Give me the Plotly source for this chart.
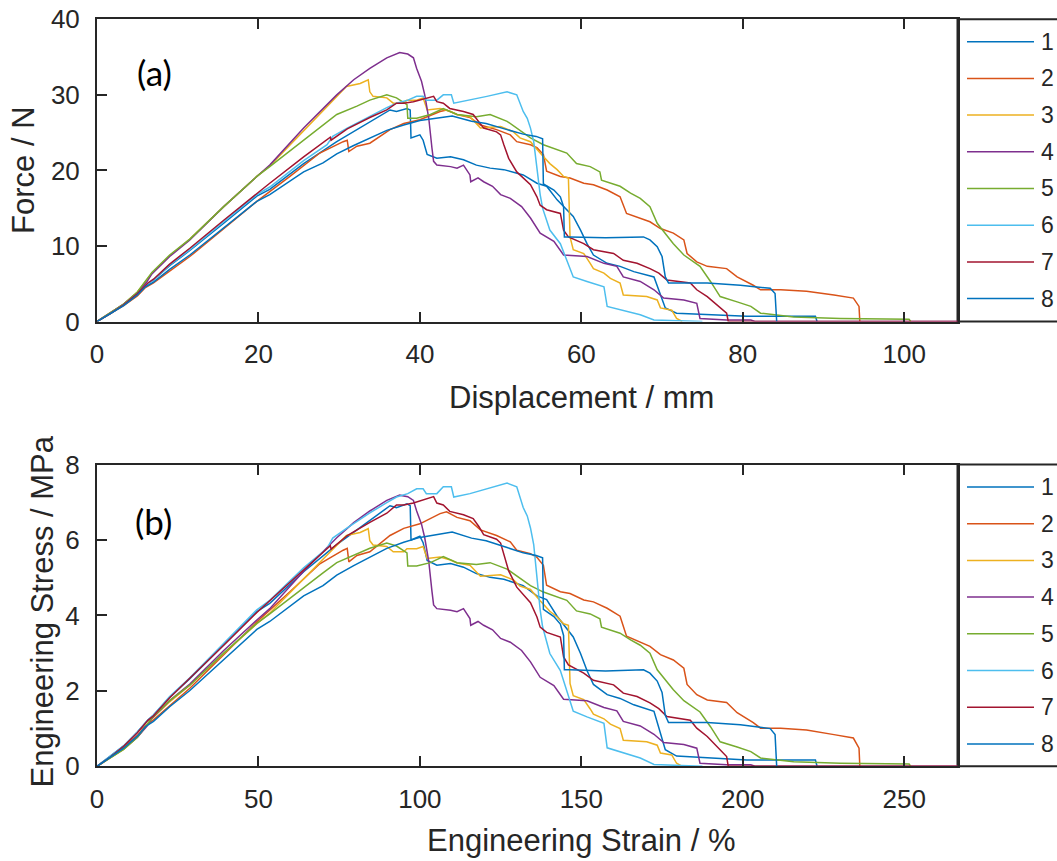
import plotly.graph_objects as go

W, H = 1057, 861
AX = "#262626"
FONT = "Liberation Sans, Arial, Helvetica, sans-serif"

sample_labels = ["1", "2", "3", "4", "5", "6", "7", "8"]
sample_colors = ["#0072BD", "#D95319", "#EDB120", "#7E2F8E",
                 "#77AC30", "#4DBEEE", "#A2142F", "#0072BD"]

# ---------------- (a) Force vs displacement ----------------
disp_1 = [0, 1.6, 3.3, 5, 6.3, 7, 9, 11.5, 15.7, 19.8, 21.4, 25.6, 29.7, 33.8, 36.3, 37.1, 38.4, 38.8, 38.9, 40,
          40.4, 40.9, 42.1, 43.8, 45.4, 47, 48.7, 50.4, 52.8, 54.5, 55.7, 57, 58.2, 59, 59.9, 60.7, 61.5, 63.2, 64.8,
          66.5, 69, 69.8, 70.4, 71.8, 75.6, 80.5, 86.3, 89, 89.2]
force_1 = [0, 1.0, 2.2, 3.7, 5.0, 5.5, 7.4, 9.4, 13.0, 16.6, 17.5, 20.9, 23.8, 26.4, 28.0, 27.8, 28.2, 28.0, 24.3, 24.7,
           24.0, 22.1, 21.6, 21.8, 21.4, 20.7, 20.3, 20.1, 19.4, 18.3, 17.9, 16.1, 14.8, 13.9, 12.1, 10.3, 8.8, 7.7, 7.3,
           6.6, 5.9, 3.7, 1.8, 1.1, 0.9, 0.7, 0.7, 0.7, 0]

disp_2 = [0, 1.6, 3.3, 5, 6, 7, 9, 11.5, 15.7, 19.8, 23.9, 27.6, 30.5, 31, 31.2, 32.2, 33.8, 36.3, 38, 40,
          42.5, 43.3, 44.6, 46.2, 47.5, 49.5, 51.2, 52, 53.7, 54.5, 55.3, 55.7, 57.4, 58.6, 60.3, 61.5, 63.2, 64.8,
          65.6, 67.3, 68.5, 69.8, 71.4, 72.7, 73.1, 74.3, 75.6, 78, 79.3, 81.3, 82.2, 84.7, 87.9, 91.3, 93.7, 94.4, 94.5]
force_2 = [0, 1.0, 2.1, 3.4, 4.5, 5.1, 6.7, 8.6, 12.3, 15.9, 19.2, 22.3, 23.8, 24.0, 22.5, 23.2, 23.6, 25.4, 26.2, 26.7,
           27.8, 28.0, 27.4, 27.0, 26.0, 25.4, 24.7, 23.8, 23.4, 23.0, 22.1, 19.9, 19.2, 19.0, 18.3, 18.1, 17.4, 16.5,
           14.3, 13.7, 13.2, 12.3, 11.7, 10.8, 9.0, 7.9, 7.3, 7.0, 5.9, 4.8, 4.2, 4.2, 4.0, 3.5, 3.1, 2.0, 0]

disp_3 = [0, 1.6, 3.3, 5, 6.2, 6.8, 9, 11.5, 15.7, 19.8, 21.4, 25.6, 29.7, 30.9, 32.6, 33.6, 33.8, 34.2, 35.9, 36.7,
          38, 38.4, 39.6, 40.4, 40.9, 42.5, 43.8, 44.6, 46.2, 47.5, 50, 51.6, 52.4, 53.7, 54.9, 56.1, 57, 57.8, 58.4,
          58.6, 59, 60.3, 61.1, 61.5, 62.8, 63.6, 64.8, 65.2, 68.1, 69.4, 69.8, 71.2, 71.8, 72.5]
force_3 = [0, 1.1, 2.3, 3.9, 5.5, 6.4, 8.7, 10.9, 15.2, 19.2, 20.6, 25.3, 29.8, 31.1, 31.5, 32.0, 30.4, 29.8, 29.6, 28.9,
           28.9, 29.3, 29.3, 29.6, 28.0, 28.2, 27.8, 27.4, 27.1, 25.6, 25.8, 25.1, 24.3, 23.8, 22.3, 20.9, 20.1, 19.2,
           19.0, 11.2, 9.5, 9.0, 7.7, 7.0, 6.4, 5.7, 5.1, 3.5, 3.3, 2.85, 1.8, 1.5, 0.4, 0]

disp_4 = [0, 1.6, 3.3, 5, 6.2, 6.8, 9, 11.5, 15.7, 19.8, 21.4, 25.6, 29.7, 31.8, 33.8, 35.9, 37.5, 38.5, 39.2, 39.6,
          40.2, 40.6, 41.1, 41.5, 41.7, 42.1, 43.8, 44.6, 45.4, 46.2, 46.3, 47.2, 47.9, 49, 50, 51.2, 52.6, 53.7, 54.9,
          56.6, 57.8, 60.7, 62.8, 64.4, 65.2, 67.3, 69, 70.2, 72.7, 74.3, 74.7, 78, 81, 81.5, 107]
force_4 = [0, 1.1, 2.3, 3.8, 5.3, 6.3, 8.6, 10.8, 15.2, 19.2, 20.7, 25.6, 30.0, 32.0, 33.5, 34.9, 35.6, 35.4, 34.9, 33.5,
           31.8, 30.0, 26.9, 22.9, 21.2, 20.7, 20.5, 20.3, 20.7, 19.4, 18.5, 19.0, 18.5, 17.9, 16.8, 16.3, 15.2, 13.7,
           11.7, 10.6, 8.8, 8.6, 7.7, 7.3, 5.9, 5.3, 4.2, 3.1, 2.85, 2.4, 0.4, 0.2, 0.2, 0, 0]

disp_5 = [0, 1.6, 3.3, 5, 6.2, 6.8, 9, 11.5, 15.7, 19.8, 21.4, 23.9, 25.6, 28, 29.7, 32.2, 33.8, 35.9, 37.1, 38.4,
          38.5, 39.6, 41.3, 42.9, 44.6, 47, 48.7, 50.8, 53.7, 55.3, 56.6, 58.2, 59.4, 61.1, 62.3, 62.5, 64.8, 66.1,
          67.3, 68.5, 69.4, 70.4, 71.4, 72.7, 74.7, 76, 77.2, 79.3, 81, 82.2, 86.3, 92.1, 96.6, 100.6, 100.8]
force_5 = [0, 1.1, 2.3, 3.9, 5.6, 6.5, 8.8, 10.9, 15.2, 19.2, 20.5, 22.6, 24.0, 26.0, 27.4, 28.5, 29.3, 30.0, 29.6, 28.7,
           26.9, 26.9, 27.4, 28.2, 27.4, 27.1, 27.4, 26.5, 24.3, 23.4, 22.9, 22.3, 20.9, 20.5, 19.8, 18.7, 17.9, 17.0,
           16.3, 15.2, 13.0, 11.7, 10.3, 8.8, 7.3, 5.3, 3.3, 2.6, 2.0, 1.1, 0.6, 0.4, 0.3, 0.3, 0]

disp_6 = [0, 1.6, 3.3, 5, 6.3, 7, 9, 11.5, 15.7, 19.8, 21.4, 25.6, 28.5, 29.2, 31, 33.8, 35.9, 37.1, 38.5, 39.6,
          40.4, 40.8, 42.1, 42.9, 43.9, 44.2, 46.2, 48.3, 50.8, 52, 52.8, 53.3, 53.7, 54.1, 54.5, 54.9, 55.2, 56.1,
          57.4, 58, 58.6, 59, 60.7, 62.8, 63.2, 65.6, 67.3, 69, 74.5, 75]
force_6 = [0, 1.0, 2.2, 3.7, 5.0, 5.5, 7.5, 9.5, 13.2, 16.8, 17.8, 21.3, 23.4, 24.5, 25.6, 27.2, 28.3, 28.9, 29.3, 29.8,
           29.8, 29.3, 29.3, 30.0, 30.0, 28.9, 29.3, 29.8, 30.4, 30.0, 27.8, 26.9, 25.6, 23.8, 20.3, 16.8, 15.0, 12.1,
           10.3, 8.6, 6.8, 5.9, 5.3, 4.6, 2.0, 1.3, 0.9, 0.2, 0.1, 0]

disp_7 = [0, 1.6, 3.3, 5, 6.3, 7, 9, 11.5, 15.7, 19.8, 21.4, 25.6, 28.9, 29.0, 31, 33.8, 35.9, 37.1, 38, 39.2,
          40.9, 41.7, 42.1, 42.9, 43.7, 45.4, 46.6, 47.3, 47.9, 49.5, 50, 50.4, 51, 52, 52.8, 53.7, 54.5, 54.9, 55.7,
          57.4, 57.8, 58.4, 60.3, 61.5, 64, 65.2, 66.9, 68.5, 69.6, 70.6, 73.5, 74.3, 75.6, 77.2, 78, 78.2, 107]
force_7 = [0, 1.0, 2.2, 3.7, 5.1, 5.6, 7.6, 9.7, 13.4, 17.0, 18.3, 21.8, 24.4, 24.0, 25.5, 27.0, 28.0, 28.9, 28.9, 29.1,
           29.6, 29.8, 29.1, 28.9, 28.2, 27.8, 27.4, 26.5, 25.6, 25.1, 24.7, 23.4, 21.6, 19.8, 19.0, 18.1, 16.5, 15.4,
           14.8, 14.3, 12.1, 11.2, 10.3, 9.5, 9.0, 8.1, 7.7, 7.0, 6.4, 5.5, 5.1, 4.2, 3.3, 1.8, 1.1, 0, 0]

disp_8 = [0, 1.6, 3.3, 5, 6, 7, 9, 11.5, 15.7, 19.8, 21.4, 25.6, 28, 29.7, 31.8, 33.8, 35.9, 38, 40, 42,
          44, 46.4, 48.2, 50.8, 52.8, 54.4, 55.2, 55.3, 56.6, 57.4, 57.8, 57.9, 58.6, 63, 67.7, 68.5, 69.4, 70, 70.4,
          70.8, 75.6, 79.7, 83.4, 84, 84.2]
force_8 = [0, 1.0, 2.1, 3.5, 4.6, 5.2, 6.9, 8.8, 12.4, 15.9, 16.8, 19.8, 21.0, 22.2, 23.3, 24.3, 25.3, 26.0, 26.6, 26.9,
           27.2, 26.5, 26.2, 25.4, 24.8, 24.5, 24.2, 18.2, 17.4, 16.5, 15.2, 11.2, 11.2, 11.1, 11.2, 10.8, 9.9, 8.6, 5.9,
           5.1, 5.1, 4.8, 4.4, 3.7, 0]

# ---------------- (b) Engineering stress vs strain ----------------
strain_1 = [0, 4, 8.25, 12.5, 15.75, 17.5, 22.5, 28.75, 39.25, 49.5, 53.5, 64, 74.25, 84.5, 90.75, 92.75, 96, 97, 97.25,
            100, 101, 102.25, 105.25, 109.5, 113.5, 117.5, 121.75, 126, 132, 136.25, 139.25, 142.5, 145.5, 147.5,
            149.75, 151.75, 153.75, 158, 162, 166.25, 172.5, 174.5, 176, 179.5, 189, 201.25, 215.75, 222.5, 223]
stress_1 = [0, 0.25, 0.54, 0.91, 1.23, 1.36, 1.83, 2.32, 3.21, 4.10, 4.32, 5.16, 5.88, 6.52, 6.91, 6.86, 6.96, 6.91, 6.00,
            6.10, 5.93, 5.46, 5.33, 5.38, 5.28, 5.11, 5.01, 4.96, 4.79, 4.52, 4.42, 3.98, 3.65, 3.43, 2.99, 2.54, 2.17,
            1.90, 1.80, 1.63, 1.46, 0.91, 0.44, 0.27, 0.22, 0.17, 0.17, 0.17, 0]

strain_2 = [0, 4, 8.25, 12.5, 15, 17.5, 22.5, 28.75, 39.25, 49.5, 59.75, 69, 76.25, 77.5, 78, 80.5, 84.5, 90.75, 95, 100,
            106.25, 108.25, 111.5, 115.5, 118.75, 123.75, 128, 130, 134.25, 136.25, 138.25, 139.25, 143.5, 146.5,
            150.75, 153.75, 158, 162, 164, 168.25, 171.25, 174.5, 178.5, 181.75, 182.75, 185.75, 189, 195, 198.25,
            203.25, 205.5, 211.75, 219.75, 228.25, 234.25, 236, 236.25]
stress_2 = [0, 0.24, 0.51, 0.82, 1.08, 1.23, 1.61, 2.07, 2.96, 3.83, 4.63, 5.37, 5.73, 5.78, 5.42, 5.59, 5.69, 6.12, 6.31,
            6.43, 6.70, 6.75, 6.60, 6.51, 6.27, 6.12, 5.95, 5.73, 5.64, 5.54, 5.33, 4.80, 4.63, 4.58, 4.41, 4.36, 4.19,
            3.98, 3.45, 3.30, 3.18, 2.96, 2.82, 2.60, 2.17, 1.90, 1.76, 1.69, 1.42, 1.16, 1.01, 1.01, 0.96, 0.84, 0.75,
            0.48, 0]

strain_3 = [0, 4, 8.25, 12.5, 15.5, 17, 22.5, 28.75, 39.25, 49.5, 53.5, 64, 74.25, 77.25, 81.5, 84, 84.5, 85.5, 89.75,
            91.75, 95, 96, 99, 101, 102.25, 106.25, 109.5, 111.5, 115.5, 118.75, 125, 129, 131, 134.25, 137.25, 140.25,
            142.5, 144.5, 146, 146.5, 147.5, 150.75, 152.75, 153.75, 157, 159, 162, 163, 170.25, 173.5, 174.5, 178,
            179.5, 181.25]
stress_3 = [0, 0.22, 0.45, 0.77, 1.08, 1.26, 1.71, 2.15, 2.99, 3.78, 4.06, 4.98, 5.87, 6.12, 6.20, 6.30, 5.98, 5.87, 5.83,
            5.69, 5.69, 5.77, 5.77, 5.83, 5.51, 5.55, 5.47, 5.39, 5.33, 5.04, 5.08, 4.94, 4.78, 4.69, 4.39, 4.11, 3.96,
            3.78, 3.74, 2.20, 1.87, 1.77, 1.52, 1.38, 1.26, 1.12, 1.00, 0.69, 0.65, 0.56, 0.35, 0.30, 0.08, 0]

strain_4 = [0, 4, 8.25, 12.5, 15.5, 17, 22.5, 28.75, 39.25, 49.5, 53.5, 64, 74.25, 79.5, 84.5, 89.75, 93.75, 96.25, 98,
            99, 100.5, 101.5, 102.75, 103.75, 104.25, 105.25, 109.5, 111.5, 113.5, 115.5, 115.75, 118, 119.75, 122.5,
            125, 128, 131.5, 134.25, 137.25, 141.5, 144.5, 151.75, 157, 161, 163, 168.25, 172.5, 175.5, 181.75,
            185.75, 186.75, 195, 202.5, 203.75, 267.5]
stress_4 = [0, 0.22, 0.46, 0.77, 1.07, 1.27, 1.74, 2.18, 3.07, 3.88, 4.18, 5.17, 6.06, 6.46, 6.77, 7.05, 7.19, 7.15, 7.05,
            6.77, 6.42, 6.06, 5.43, 4.63, 4.28, 4.18, 4.14, 4.10, 4.18, 3.92, 3.74, 3.84, 3.74, 3.62, 3.39, 3.29, 3.07,
            2.77, 2.36, 2.14, 1.78, 1.74, 1.56, 1.47, 1.19, 1.07, 0.85, 0.63, 0.58, 0.48, 0.08, 0.04, 0.04, 0, 0]

strain_5 = [0, 4, 8.25, 12.5, 15.5, 17, 22.5, 28.75, 39.25, 49.5, 53.5, 59.75, 64, 70, 74.25, 80.5, 84.5, 89.75, 92.75,
            96, 96.25, 99, 103.25, 107.25, 111.5, 117.5, 121.75, 127, 134.25, 138.25, 141.5, 145.5, 148.5, 152.75,
            155.75, 156.25, 162, 165.25, 168.25, 171.25, 173.5, 176, 178.5, 181.75, 186.75, 190, 193, 198.25, 202.5,
            205.5, 215.75, 230.25, 241.5, 251.5, 252]
stress_5 = [0, 0.22, 0.45, 0.77, 1.10, 1.28, 1.74, 2.15, 3.00, 3.79, 4.04, 4.46, 4.73, 5.13, 5.40, 5.62, 5.78, 5.92, 5.84,
            5.66, 5.31, 5.31, 5.40, 5.56, 5.40, 5.35, 5.40, 5.23, 4.79, 4.62, 4.52, 4.40, 4.12, 4.04, 3.91, 3.69, 3.53,
            3.35, 3.21, 3.00, 2.56, 2.31, 2.03, 1.74, 1.44, 1.05, 0.65, 0.51, 0.39, 0.22, 0.12, 0.08, 0.06, 0.06, 0]

strain_6 = [0, 4, 8.25, 12.5, 15.75, 17.5, 22.5, 28.75, 39.25, 49.5, 53.5, 64, 71.25, 73, 77.5, 84.5, 89.75, 92.75, 96.25,
            99, 101, 102, 105.25, 107.25, 109.75, 110.5, 115.5, 120.75, 127, 130, 132, 133.25, 134.25, 135.25, 136.25,
            137.25, 138, 140.25, 143.5, 145, 146.5, 147.5, 151.75, 157, 158, 164, 168.25, 172.5, 186.25, 187.5]
stress_6 = [0, 0.25, 0.54, 0.91, 1.23, 1.36, 1.85, 2.35, 3.26, 4.15, 4.40, 5.26, 5.78, 6.05, 6.32, 6.72, 6.99, 7.14, 7.23,
            7.36, 7.36, 7.23, 7.23, 7.41, 7.41, 7.14, 7.23, 7.36, 7.51, 7.41, 6.86, 6.64, 6.32, 5.88, 5.01, 4.15, 3.70,
            2.99, 2.54, 2.12, 1.68, 1.46, 1.31, 1.14, 0.49, 0.32, 0.22, 0.05, 0.02, 0]

strain_7 = [0, 4, 8.25, 12.5, 15.75, 17.5, 22.5, 28.75, 39.25, 49.5, 53.5, 64, 72.25, 72.5, 77.5, 84.5, 89.75, 92.75, 95,
            98, 102.25, 104.25, 105.25, 107.25, 109.25, 113.5, 116.5, 118.25, 119.75, 123.75, 125, 126, 127.5, 130,
            132, 134.25, 136.25, 137.25, 139.25, 143.5, 144.5, 146, 150.75, 153.75, 160, 163, 167.25, 171.25, 174,
            176.5, 183.75, 185.75, 189, 193, 195, 195.5, 267.5]
stress_7 = [0, 0.24, 0.53, 0.89, 1.22, 1.34, 1.82, 2.33, 3.21, 4.08, 4.39, 5.23, 5.85, 5.76, 6.12, 6.47, 6.71, 6.93, 6.93,
            6.98, 7.10, 7.15, 6.98, 6.93, 6.76, 6.67, 6.57, 6.36, 6.14, 6.02, 5.92, 5.61, 5.18, 4.75, 4.56, 4.34, 3.96,
            3.69, 3.55, 3.43, 2.90, 2.69, 2.47, 2.28, 2.16, 1.94, 1.85, 1.68, 1.53, 1.32, 1.22, 1.01, 0.79, 0.43, 0.26,
            0, 0]

strain_8 = [0, 4, 8.25, 12.5, 15, 17.5, 22.5, 28.75, 39.25, 49.5, 53.5, 64, 70, 74.25, 79.5, 84.5, 89.75, 95, 100, 105,
            110, 116, 120.5, 127, 132, 136, 138, 138.25, 141.5, 143.5, 144.5, 144.75, 146.5, 157.5, 169.25, 171.25,
            173.5, 175, 176, 177, 189, 199.25, 208.5, 210, 210.5]
stress_8 = [0, 0.23, 0.48, 0.80, 1.05, 1.19, 1.58, 2.01, 2.83, 3.63, 3.84, 4.52, 4.79, 5.07, 5.32, 5.55, 5.78, 5.94, 6.07,
            6.14, 6.21, 6.05, 5.98, 5.80, 5.66, 5.59, 5.53, 4.16, 3.97, 3.77, 3.47, 2.56, 2.56, 2.53, 2.56, 2.47, 2.26,
            1.96, 1.35, 1.16, 1.16, 1.10, 1.00, 0.84, 0]

disp_series = [disp_1, disp_2, disp_3, disp_4, disp_5, disp_6, disp_7, disp_8]
force_series = [force_1, force_2, force_3, force_4, force_5, force_6, force_7, force_8]
strain_series = [strain_1, strain_2, strain_3, strain_4, strain_5, strain_6, strain_7, strain_8]
stress_series = [stress_1, stress_2, stress_3, stress_4, stress_5, stress_6, stress_7, stress_8]

disp_ticks = [0, 20, 40, 60, 80, 100]
force_ticks = [0, 10, 20, 30, 40]
strain_ticks = [0, 50, 100, 150, 200, 250]
stress_ticks = [0, 2, 4, 6, 8]

fig = go.Figure()
for lab, col, xs, ys in zip(sample_labels, sample_colors, disp_series, force_series):
    fig.add_trace(go.Scatter(x=xs, y=ys, mode="lines", name=lab, line=dict(color=col, width=1.5),
                             xaxis="x", yaxis="y", showlegend=False))
for lab, col, xs, ys in zip(sample_labels, sample_colors, strain_series, stress_series):
    fig.add_trace(go.Scatter(x=xs, y=ys, mode="lines", name=lab, line=dict(color=col, width=1.5),
                             xaxis="x2", yaxis="y2", showlegend=False))


def fx(px):
    return px / W


def fy(py):
    return 1 - py / H


AX_L, AX_R = 97, 957.5
TOP_T, TOP_B = 19.3, 321.5
BOT_T, BOT_B = 464.6, 766.3

tickfont = dict(family=FONT, size=26, color=AX)
common = dict(showline=True, linecolor=AX, linewidth=2, ticks="inside", ticklen=10, tickwidth=2,
              tickcolor=AX, showgrid=False, zeroline=False, tickfont=tickfont, automargin=False)

fig.update_layout(
    template="none",
    width=W, height=H, margin=dict(l=0, r=0, t=0, b=0, pad=0), autosize=False,
    paper_bgcolor="white", plot_bgcolor="white", showlegend=False,
    xaxis=dict(domain=[fx(AX_L), fx(AX_R)], range=[0, 106.6], tickvals=disp_ticks, mirror="ticks",
               anchor="y", ticklabelstandoff=8, **common),
    yaxis=dict(domain=[fy(TOP_B), fy(TOP_T)], range=[0, 40], tickvals=force_ticks, mirror=True,
               anchor="x", ticklabelstandoff=10, **common),
    xaxis2=dict(domain=[fx(AX_L), fx(AX_R)], range=[0, 266.5], tickvals=strain_ticks, mirror="ticks",
                anchor="y2", ticklabelstandoff=8, **common),
    yaxis2=dict(domain=[fy(BOT_B), fy(BOT_T)], range=[0, 8], tickvals=stress_ticks, mirror=True,
                anchor="x2", ticklabelstandoff=10, **common),
)

title_font = dict(family=FONT, size=31, color=AX)
annotations = [
    dict(text="Displacement / mm", x=fx(581), y=fy(397.5), xref="paper", yref="paper",
         xanchor="center", yanchor="middle", showarrow=False, font=title_font),
    dict(text="Engineering Strain / %", x=fx(581), y=fy(840), xref="paper", yref="paper",
         xanchor="center", yanchor="middle", showarrow=False, font=title_font),
    dict(text="Force / N", x=fx(23.5), y=fy(170.4), xref="paper", yref="paper", textangle=-90,
         xanchor="center", yanchor="middle", showarrow=False, font=title_font),
    dict(text="Engineering Stress / MPa", x=fx(41.5), y=fy(612), xref="paper", yref="paper", textangle=-90,
         xanchor="center", yanchor="middle", showarrow=False, font=title_font),
    dict(text="(a)", x=fx(154.5), y=fy(72), xref="paper", yref="paper", xanchor="center", yanchor="middle",
         showarrow=False, font=dict(family="Lato, Open Sans, sans-serif", size=35, color="black")),
    dict(text="(b)", x=fx(153), y=fy(521), xref="paper", yref="paper", xanchor="center", yanchor="middle",
         showarrow=False, font=dict(family="Lato, Open Sans, sans-serif", size=35, color="black")),
]

shapes = []
legend_font = dict(family=FONT, size=23, color=AX)
for top, bottom in [(TOP_T, TOP_B), (BOT_T, BOT_B)]:
    # legend box to the right of each axes
    shapes.append(dict(type="rect", xref="paper", yref="paper", x0=fx(AX_R), x1=fx(W + 10),
                       y0=fy(bottom), y1=fy(top), line=dict(color=AX, width=2), fillcolor="white",
                       layer="below"))
    for i, (lab, col) in enumerate(zip(sample_labels, sample_colors)):
        yc = top + 22.4 + i * 36.7
        shapes.append(dict(type="line", xref="paper", yref="paper", x0=fx(967), x1=fx(1034),
                           y0=fy(yc), y1=fy(yc), line=dict(color=col, width=1.5)))
        annotations.append(dict(text=lab, x=fx(1039), y=fy(yc), xref="paper", yref="paper",
                                xanchor="left", yanchor="middle", showarrow=False, font=legend_font))

fig.update_layout(annotations=annotations, shapes=shapes)
fig.write_html("out.html")
